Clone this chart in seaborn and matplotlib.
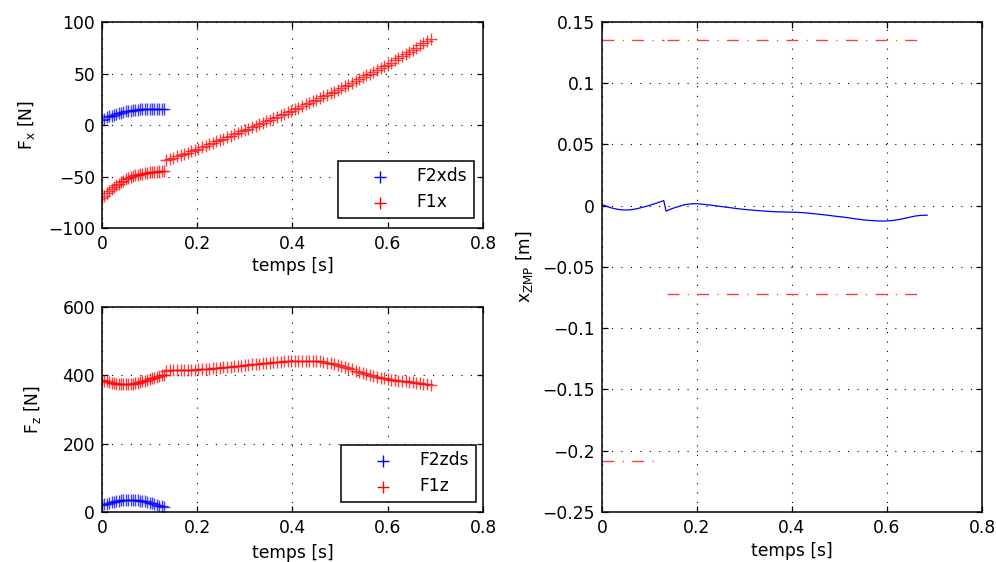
import numpy as np
import pandas as pd
import matplotlib
matplotlib.use("Agg")
import matplotlib.pyplot as plt
import seaborn as sns

# ---------------- data ----------------
# phase 1 (double support) sampling times [s]
t_ds = [0.0, 0.005, 0.01, 0.015, 0.02, 0.025, 0.03, 0.035, 0.04, 0.045, 0.05,
        0.055, 0.06, 0.065, 0.07, 0.075, 0.08, 0.085, 0.09, 0.095, 0.1, 0.105,
        0.11, 0.115, 0.12, 0.125, 0.13]
# phase 2 (single support) sampling times [s]
t_ss = [0.135, 0.1425, 0.15, 0.1575, 0.165, 0.1725, 0.18, 0.1875, 0.195, 0.2025,
        0.21, 0.2175, 0.225, 0.2325, 0.24, 0.2475, 0.255, 0.2625, 0.27, 0.2775,
        0.285, 0.2925, 0.3, 0.3075, 0.315, 0.3225, 0.33, 0.3375, 0.345, 0.3525,
        0.36, 0.3675, 0.375, 0.3825, 0.39, 0.3975, 0.405, 0.4125, 0.42, 0.4275,
        0.435, 0.4425, 0.45, 0.4575, 0.465, 0.4725, 0.48, 0.4875, 0.495, 0.5025,
        0.51, 0.5175, 0.525, 0.5325, 0.54, 0.5475, 0.555, 0.5625, 0.57, 0.5775,
        0.585, 0.5925, 0.6, 0.6075, 0.615, 0.6225, 0.63, 0.6375, 0.645, 0.6525,
        0.66, 0.6675, 0.675, 0.6825, 0.69]

F2xds = [5.0, 6.2, 7.3, 8.3, 9.2, 10.0, 10.8, 11.5, 12.1, 12.7, 13.2, 13.6, 14.0,
         14.3, 14.6, 14.9, 15.1, 15.3, 15.4, 15.5, 15.6, 15.6, 15.6, 15.5, 15.4,
         15.3, 15.2]
F1x_ds = [-71.0, -68.5, -66.2, -64.0, -62.0, -60.1, -58.4, -56.8, -55.3, -54.0,
          -52.7, -51.6, -50.6, -49.7, -48.9, -48.2, -47.6, -47.1, -46.6, -46.2,
          -45.9, -45.6, -45.4, -45.2, -45.0, -44.9, -44.8]
F1x_ss = [-34.0, -32.8, -31.6, -30.4, -29.2, -28.0, -26.8, -25.6, -24.3, -23.0,
          -21.6, -20.2, -18.8, -17.4, -16.0, -14.6, -13.2, -11.8, -10.4, -9.0,
          -7.6, -6.2, -4.8, -3.4, -2.0, -0.5, 0.9, 2.3, 3.8, 5.2,
          6.6, 8.1, 9.5, 10.9, 12.4, 13.8, 15.4, 16.9, 18.5, 20.0,
          21.6, 23.1, 24.7, 26.2, 27.8, 29.3, 30.9, 32.4, 34.0, 35.8,
          37.5, 39.3, 41.1, 42.8, 44.6, 46.3, 48.1, 49.9, 51.6, 53.4,
          55.2, 56.9, 58.7, 60.7, 62.7, 64.7, 66.8, 68.9, 71.0, 73.1,
          75.2, 77.3, 79.4, 81.6, 83.8]

F2zds = [19.5, 22.0, 24.3, 26.4, 28.3, 30.0, 31.5, 32.8, 33.9, 34.7, 35.3, 35.7,
         35.8, 35.6, 35.1, 34.4, 33.4, 32.2, 30.8, 29.2, 27.4, 25.4, 23.3, 21.1,
         18.9, 16.7, 14.6]
F1z_ds = [387.0, 384.5, 382.3, 380.3, 378.6, 377.1, 375.9, 375.0, 374.4, 374.1,
          374.1, 374.4, 375.0, 375.9, 377.1, 378.6, 380.3, 382.2, 384.3, 386.5,
          388.8, 391.1, 393.4, 395.6, 397.7, 399.6, 401.3]
F1z_ss = [414.0, 414.3, 414.6, 414.9, 415.2, 415.5, 415.8, 416.2, 416.6, 417.1,
          417.7, 418.4, 419.2, 420.1, 421.0, 422.0, 423.0, 424.1, 425.2, 426.3,
          427.4, 428.5, 429.6, 430.7, 431.8, 432.9, 434.0, 435.0, 436.0, 437.0,
          437.9, 438.8, 439.6, 440.4, 441.1, 441.7, 442.2, 442.6, 442.9, 443.0,
          442.9, 442.5, 441.8, 440.7, 439.2, 437.3, 435.0, 432.4, 429.6, 426.6,
          423.5, 420.3, 417.1, 413.9, 410.8, 407.8, 403.5, 400.5, 397.8, 395.3,
          393.0, 391.0, 389.2, 387.6, 386.1, 384.7, 383.4, 382.1, 380.9, 379.7,
          378.4, 377.0, 375.5, 373.9, 372.2]

# ZMP trajectory
t_zmp = [0.0, 0.01, 0.02, 0.03, 0.04, 0.05, 0.06, 0.07, 0.08, 0.09, 0.10, 0.11,
         0.12, 0.13, 0.135, 0.14, 0.15, 0.16, 0.17, 0.18, 0.19, 0.20, 0.21, 0.22,
         0.23, 0.24, 0.25, 0.26, 0.27, 0.28, 0.29, 0.30, 0.31, 0.32, 0.33, 0.34,
         0.35, 0.36, 0.37, 0.38, 0.39, 0.40, 0.41, 0.42, 0.43, 0.44, 0.45, 0.46,
         0.47, 0.48, 0.49, 0.50, 0.51, 0.52, 0.53, 0.54, 0.55, 0.56, 0.57, 0.58,
         0.59, 0.60, 0.61, 0.62, 0.63, 0.64, 0.65, 0.66, 0.67, 0.68, 0.685]
x_zmp = [0.0010, -0.0005, -0.0018, -0.0027, -0.0033, -0.0035, -0.0033, -0.0027,
         -0.0018, -0.0008, 0.0003, 0.0015, 0.0028, 0.0042, -0.0045, -0.0035,
         -0.0020, -0.0008, 0.0004, 0.0012, 0.0016, 0.0016, 0.0013, 0.0009,
         0.0004, -0.0001, -0.0006, -0.0011, -0.0016, -0.0021, -0.0026, -0.0030,
         -0.0034, -0.0037, -0.0040, -0.0043, -0.0046, -0.0048, -0.0050, -0.0051,
         -0.0052, -0.0053, -0.0054, -0.0056, -0.0059, -0.0063, -0.0067, -0.0071,
         -0.0075, -0.0080, -0.0085, -0.0089, -0.0094, -0.0099, -0.0105, -0.0110,
         -0.0115, -0.0119, -0.0122, -0.0124, -0.0125, -0.0124, -0.0121, -0.0116,
         -0.0109, -0.0101, -0.0092, -0.0084, -0.0079, -0.0077, -0.0078]

# support polygon limits: (t_start, t_end, value)
lim_ds_upper = [0.0, 0.13, 0.135]
lim_ds_lower = [0.0, 0.125, -0.208]
lim_ss_upper = [0.136, 0.675, 0.135]
lim_ss_lower = [0.136, 0.675, -0.072]

x_ticks = [0, 0.2, 0.4, 0.6, 0.8]
x_tick_labels = ["0", "0.2", "0.4", "0.6", "0.8"]
fx_ticks = [-100, -50, 0, 50, 100]
fz_ticks = [0, 200, 400, 600]
zmp_ticks = [-0.25, -0.2, -0.15, -0.1, -0.05, 0, 0.05, 0.1, 0.15]
zmp_tick_labels = ["\u22120.25", "\u22120.2", "\u22120.15", "\u22120.1",
                   "\u22120.05", "0", "0.05", "0.1", "0.15"]

# ---------------- style ----------------
sns.set_theme(style="ticks")
plt.rcParams["font.family"] = ["DejaVu Sans"]
plt.rcParams["mathtext.fontset"] = "dejavusans"
plt.rcParams["text.color"] = "black"
plt.rcParams["axes.labelcolor"] = "black"
plt.rcParams["xtick.color"] = "black"
plt.rcParams["ytick.color"] = "black"
FS = 12.3

BLUE = "#0000ff"
RED = "#ff0000"
LIMC = "#ff3b3b"
grid_ls = (0, (1, 7.5))
lim_ls = (0, (8.6, 6, 0.8, 6))
MS = 70
MLW = 1.0
MALPHA = 0.75

fig = plt.figure(figsize=(9.96, 5.62), dpi=100)
fig.patch.set_facecolor("white")
ax1 = fig.add_axes([0.1024, 0.5943, 0.3825, 0.3665])
ax2 = fig.add_axes([0.1024, 0.0890, 0.3825, 0.3648])
ax3 = fig.add_axes([0.6044, 0.0890, 0.3815, 0.8719])


def style_axes(ax):
    ax.set_facecolor("white")
    for s in ax.spines.values():
        s.set_visible(True)
        s.set_color("black")
        s.set_linewidth(1.1)
    ax.tick_params(direction="in", length=4, width=0.9, top=True, right=True,
                   labelsize=FS, colors="black", pad=5)
    ax.grid(True, color="black", linestyle=grid_ls, linewidth=0.8)
    ax.set_axisbelow(True)
    ax.set_xlim(0, 0.8)
    ax.set_xticks(x_ticks)
    ax.set_xticklabels(x_tick_labels)
    ax.set_xlabel("temps [s]", fontsize=FS, color="black")


# --- Fx
df_fx2 = pd.DataFrame({"t": t_ds, "F": F2xds})
df_fx1 = pd.DataFrame({"t": t_ds + t_ss, "F": F1x_ds + F1x_ss})
sns.scatterplot(data=df_fx2, x="t", y="F", marker="+", s=MS, color=BLUE,
                linewidth=MLW, alpha=MALPHA, ax=ax1, label="F2xds")
sns.scatterplot(data=df_fx1, x="t", y="F", marker="+", s=MS, color=RED,
                linewidth=MLW, alpha=MALPHA, ax=ax1, label="F1x")
style_axes(ax1)
ax1.set_ylim(-100, 100)
ax1.set_yticks(fx_ticks)
ax1.set_yticklabels([("\u2212" + str(-v)) if v < 0 else str(v) for v in fx_ticks])
ax1.set_ylabel(r"F$_\mathregular{x}$ [N]", fontsize=FS, color="black")
ax1.yaxis.set_label_coords(-0.17, 0.5)
ax1.xaxis.set_label_coords(0.5, -0.14)

# --- Fz
df_fz2 = pd.DataFrame({"t": t_ds, "F": F2zds})
df_fz1 = pd.DataFrame({"t": t_ds + t_ss, "F": F1z_ds + F1z_ss})
sns.scatterplot(data=df_fz2, x="t", y="F", marker="+", s=MS, color=BLUE,
                linewidth=MLW, alpha=MALPHA, ax=ax2, label="F2zds")
sns.scatterplot(data=df_fz1, x="t", y="F", marker="+", s=MS, color=RED,
                linewidth=MLW, alpha=MALPHA, ax=ax2, label="F1z")
style_axes(ax2)
ax2.set_ylim(0, 600)
ax2.set_yticks(fz_ticks)
ax2.set_yticklabels([str(v) for v in fz_ticks])
ax2.set_ylabel(r"F$_\mathregular{z}$ [N]", fontsize=FS, color="black")
ax2.yaxis.set_label_coords(-0.155, 0.5)
ax2.xaxis.set_label_coords(0.5, -0.155)


def make_legend(ax, anchor):
    h, l = ax.get_legend_handles_labels()
    leg = ax.legend(h, l, loc="lower right", bbox_to_anchor=anchor,
                    borderaxespad=0, fontsize=FS, frameon=True, fancybox=False,
                    edgecolor="black", framealpha=1, handlelength=4.1,
                    handletextpad=0.1, borderpad=0.4, labelspacing=0.45,
                    markerscale=1.0)
    leg.get_frame().set_linewidth(1.1)
    for txt in leg.get_texts():
        txt.set_color("black")
    for lh in leg.legend_handles:
        lh.set_alpha(1)


make_legend(ax1, (0.976, 0.0485))
make_legend(ax2, (0.982, 0.049))

# --- ZMP
sns.lineplot(x=t_zmp, y=x_zmp, color=BLUE, linewidth=0.9, sort=False,
             estimator=None, ax=ax3)
for lim in (lim_ds_upper, lim_ds_lower, lim_ss_upper, lim_ss_lower):
    sns.lineplot(x=[lim[0], lim[1]], y=[lim[2], lim[2]], color=LIMC,
                 linewidth=1.0, linestyle=lim_ls, sort=False, estimator=None,
                 ax=ax3)
style_axes(ax3)
ax3.set_ylim(-0.25, 0.15)
ax3.set_yticks(zmp_ticks)
ax3.set_yticklabels(zmp_tick_labels)
ax3.set_ylabel(r"x$_\mathregular{ZMP}$ [m]", fontsize=FS, color="black")
ax3.yaxis.set_label_coords(-0.175, 0.5)
ax3.xaxis.set_label_coords(0.5, -0.062)

fig.savefig("out.png", dpi=100, facecolor="white")
